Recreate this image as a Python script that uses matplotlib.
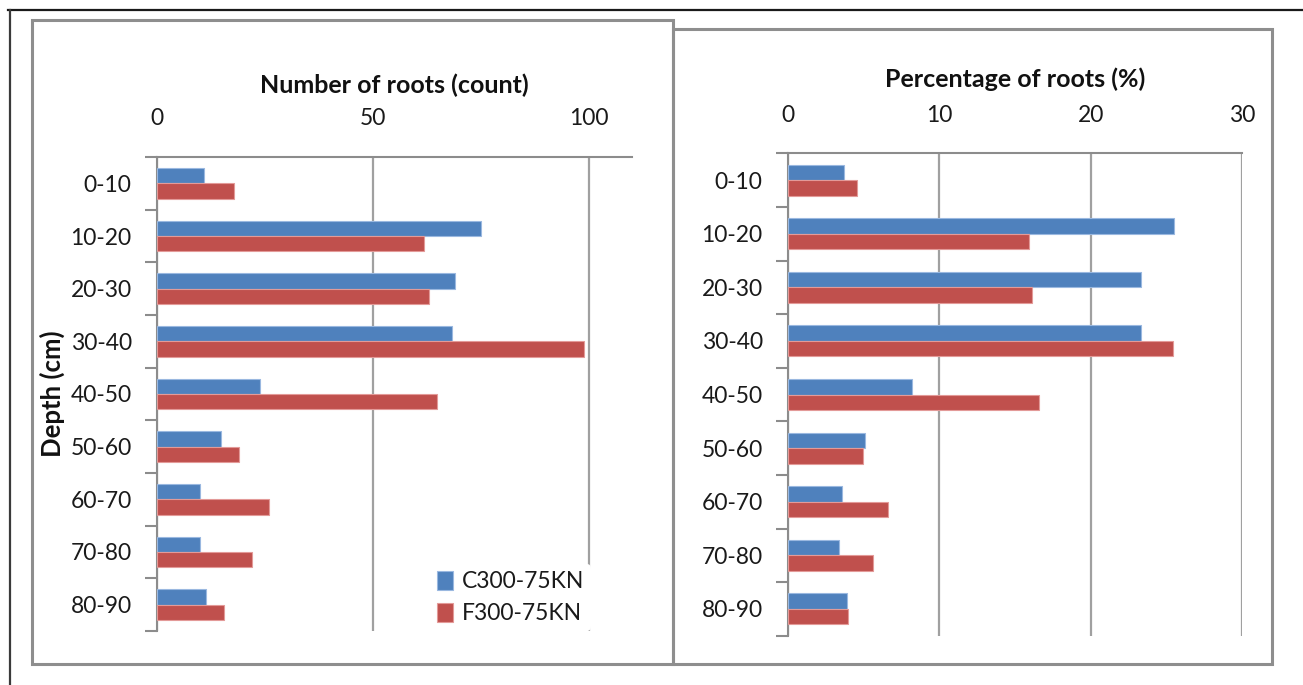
import matplotlib
matplotlib.use("Agg")
import matplotlib.pyplot as plt
from matplotlib.patches import Rectangle
from matplotlib.lines import Line2D
import numpy as np

plt.rcParams['font.family'] = ['Lato', 'DejaVu Sans']

# Soil depth layers
depths = ["0-10", "10-20", "20-30", "30-40", "40-50", "50-60", "60-70", "70-80", "80-90"]
series = ["C300-75KN", "F300-75KN"]

# Root counts per layer
count_c = [11, 75, 69, 68.5, 24, 15, 10, 10, 11.5]
count_f = [18, 62, 63, 99, 65, 19, 26, 22, 15.5]

# Share of roots per layer (%)
pct_c = [3.7, 25.5, 23.3, 23.3, 8.2, 5.1, 3.6, 3.4, 3.9]
pct_f = [4.6, 15.95, 16.1, 25.4, 16.6, 4.95, 6.6, 5.6, 4.0]

count_ticks = [0, 50, 100]
pct_ticks = [0, 10, 20, 30]

BLUE = "#4F81BD"
RED = "#C0504D"
BLUE_EDGE = "#9AB8E0"
RED_EDGE = "#E39A98"
AXIS_GRAY = "#8C8C8C"

W, H = 1303, 685
fig = plt.figure(figsize=(W / 100, H / 100), dpi=100)
fig.patch.set_facecolor("white")


def px_rect(x0, y0, x1, y1):
    """Convert pixel box (top-left origin) to figure fraction [l, b, w, h]."""
    return [x0 / W, 1 - y1 / H, (x1 - x0) / W, (y1 - y0) / H]


def hline(x0, x1, y, color, lw):
    fig.add_artist(Line2D([x0 / W, x1 / W], [1 - y / H, 1 - y / H],
                          transform=fig.transFigure, color=color, lw=lw))


def vline(x, y0, y1, color, lw):
    fig.add_artist(Line2D([x / W, x / W], [1 - y0 / H, 1 - y1 / H],
                          transform=fig.transFigure, color=color, lw=lw))


# outer page frame
hline(8, W, 9.5, "#1a1a1a", 1.6)
vline(10, 9.5, H, "#3a3a3a", 1.6)

# chart area frames
for (x0, y0, x1, y1) in [(32, 20, 673, 664), (673, 29, 1272, 664)]:
    fig.add_artist(Rectangle((x0 / W, 1 - y1 / H), (x1 - x0) / W, (y1 - y0) / H,
                             transform=fig.transFigure, fill=False,
                             edgecolor="#8E8E8E", lw=2.2))


def draw_panel(rect, vals_c, vals_f, xmax, ticks, title, title_y, show_ylabel):
    ax = fig.add_axes(px_rect(*rect))
    n = len(depths)
    y = np.arange(n)
    h = 0.29
    ax.barh(y - h / 2, vals_c, height=h, color=BLUE, edgecolor=BLUE_EDGE,
            linewidth=0.8, label=series[0], zorder=3)
    ax.barh(y + h / 2, vals_f, height=h, color=RED, edgecolor=RED_EDGE,
            linewidth=0.8, label=series[1], zorder=3)
    ax.set_ylim(n - 0.5, -0.5)
    ax.set_xlim(0, xmax)

    ax.xaxis.tick_top()
    ax.set_xticks(ticks)
    ax.set_xticklabels([str(t) for t in ticks])
    ax.tick_params(axis="x", length=0, pad=20, labelsize=16.5, colors="#1a1a1a")
    ax.xaxis.grid(True, color="#A0A0A0", lw=1.6, zorder=1)
    ax.set_axisbelow(True)

    ax.set_yticks(y)
    ax.set_yticklabels(depths)
    ax.set_yticks(np.arange(n + 1) - 0.5, minor=True)
    ax.tick_params(axis="y", which="major", length=0, pad=18, labelsize=16.5,
                   colors="#1a1a1a")
    ax.tick_params(axis="y", which="minor", length=9, width=1.5,
                   color=AXIS_GRAY)

    for s in ["right", "bottom"]:
        ax.spines[s].set_visible(False)
    for s in ["top", "left"]:
        ax.spines[s].set_color(AXIS_GRAY)
        ax.spines[s].set_linewidth(1.5)

    cx = (rect[0] + rect[2]) / 2 / W
    fig.text(cx, 1 - title_y / H, title, ha="center", va="center",
             fontsize=18, fontweight="bold", color="#111111")
    if show_ylabel:
        fig.text(52 / W, 1 - 394 / H, "Depth (cm)", rotation=90, ha="center",
                 va="center", fontsize=18.5, fontweight="bold", color="#111111")
    return ax


ax1 = draw_panel((156.7, 157, 631.7, 631), count_c, count_f, 110, count_ticks,
                 "Number of roots (count)", 85, True)
ax2 = draw_panel((787.7, 153.3, 1242.3, 635.7), pct_c, pct_f, 30, pct_ticks,
                 "Percentage of roots (%)", 79, False)

leg = ax1.legend(loc="lower left", bbox_to_anchor=((430 - 156.7) / 475, 0.0),
                 frameon=True, fontsize=16.5, handlelength=0.7, handleheight=0.9,
                 handletextpad=0.4, labelspacing=0.45, borderpad=0.3,
                 borderaxespad=0.0)
leg.get_frame().set_facecolor("white")
leg.get_frame().set_edgecolor("none")
leg.get_frame().set_alpha(1.0)
leg.set_zorder(5)
for t in leg.get_texts():
    t.set_color("#1a1a1a")

fig.savefig("out.png", dpi=100, facecolor="white")
